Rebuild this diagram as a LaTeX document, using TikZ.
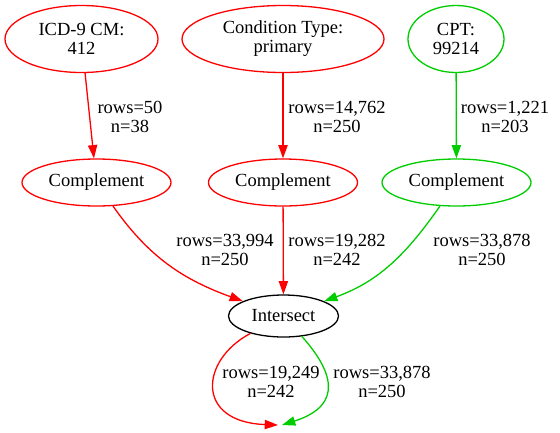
\documentclass[tikz,border=0pt]{standalone}
\usepackage{fontspec}
\setmainfont{Liberation Serif}
\newfontfamily\gvserif{Liberation Serif}
\usetikzlibrary{shapes.geometric,arrows.meta}
\definecolor{gvred}{RGB}{255,0,0}
\definecolor{gvgreen}{RGB}{0,205,0}
\tikzset{
  txt/.style={font=\gvserif\fontsize{18.5}{19}\selectfont, align=center, inner sep=0pt},
  oval/.style={ellipse, draw, line width=1.3pt, txt},
  lbl/.style={txt},
  flow/.style={line width=1.3pt, -{Triangle[length=13.3pt,width=9.3pt]}},
}
\begin{document}
\begin{tikzpicture}[x=1pt,y=-1pt]
\useasboundingbox (0,0) rectangle (560,432);

% source filters
\node[oval, gvred, text=black, minimum width=153pt, minimum height=67pt] (icd) at (81.5,39) {ICD-9 CM:\\412};
\node[oval, gvred, text=black, minimum width=202pt, minimum height=67pt] (cond) at (283,39) {Condition Type:\\primary};
\node[oval, gvgreen, text=black, minimum width=96pt, minimum height=67pt] (cpt) at (456,39) {CPT:\\99214};

% complements
\node[oval, gvred, text=black, minimum width=149pt, minimum height=47pt] (c1) at (96.5,182.5) {Complement};
\node[oval, gvred, text=black, minimum width=149pt, minimum height=47pt] (c2) at (283,182.5) {Complement};
\node[oval, gvgreen, text=black, minimum width=149pt, minimum height=47pt] (c3) at (456.5,182.5) {Complement};

% intersection
\node[oval, black, minimum width=110pt, minimum height=42pt] (int) at (283.5,316) {Intersect};

% open ends of the result edges
\coordinate (outR) at (278,425);
\coordinate (outG) at (282,425);

% edges
\draw[flow, gvred] (icd) -- (c1);
\draw[flow, gvred] (cond) -- (c2);
\draw[flow, gvgreen] (cpt) -- (c3);
\draw[flow, gvred] (c1) to[out=-55, in=160] (int);
\draw[flow, gvred] (c2) -- (int);
\draw[flow, gvgreen] (c3) to[out=-125, in=20] (int);
\draw[flow, gvred] (int) .. controls (200,360) and (195,422) .. (outR);
\draw[flow, gvgreen] (int) .. controls (332,370) and (345,405) .. (outG);

% edge labels
\node[lbl] (l1) at (130,117) {rows=50\\n=38};
\node[lbl] (l2) at (337,117) {rows=14,762\\n=250};
\node[lbl] (l3) at (505,117) {rows=1,221\\n=203};
\node[lbl] (l4) at (225,250) {rows=33,994\\n=250};
\node[lbl] (l5) at (337,250) {rows=19,282\\n=242};
\node[lbl] (l6) at (482,250) {rows=33,878\\n=250};
\node[lbl] (l7) at (271,382) {rows=19,249\\n=242};
\node[lbl] (l8) at (382,382) {rows=33,878\\n=250};
\end{tikzpicture}
\end{document}
